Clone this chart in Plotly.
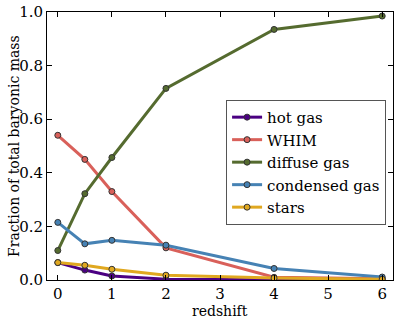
import plotly.graph_objects as go

redshift = [0, 0.5, 1, 2, 4, 6]
hot_gas = [0.065, 0.037, 0.015, 0.003, 0.001, 0.0005]
whim = [0.54, 0.45, 0.33, 0.12, 0.01, 0.005]
diffuse_gas = [0.11, 0.322, 0.457, 0.715, 0.935, 0.985]
condensed_gas = [0.215, 0.135, 0.148, 0.13, 0.043, 0.011]
stars = [0.065, 0.055, 0.04, 0.018, 0.007, 0.003]

series = [
    ('hot gas', hot_gas, '#4b0082'),
    ('WHIM', whim, '#d9605a'),
    ('diffuse gas', diffuse_gas, '#556b2f'),
    ('condensed gas', condensed_gas, '#4682b4'),
    ('stars', stars, '#e0a820'),
]

fig = go.Figure()
for name, vals, col in series:
    fig.add_trace(go.Scatter(
        x=redshift, y=vals, name=name, mode='lines+markers',
        line=dict(color=col, width=3),
        marker=dict(size=6, color=col, line=dict(color='#333333', width=1)),
    ))

axis_common = dict(
    showgrid=False, zeroline=False, showline=True, mirror='allticks',
    linecolor='black', linewidth=1, ticks='inside', ticklen=5,
    tickcolor='black', tickfont=dict(size=15, color='black'),
    automargin=False,
)

fig.update_layout(
    width=399, height=320,
    margin=dict(l=47, r=6, t=12, b=40),
    paper_bgcolor='white', plot_bgcolor='white',
    font=dict(family='DejaVu Serif', color='black'),
    xaxis=dict(range=[-0.2, 6.2], tickvals=[0, 1, 2, 3, 4, 5, 6], **axis_common),
    yaxis=dict(range=[0, 1], tickvals=[0, 0.2, 0.4, 0.6, 0.8, 1.0],
               tickformat='.1f', **axis_common),
    annotations=[
        dict(text='redshift', x=0.5, y=0, xref='paper', yref='paper',
             xanchor='center', yanchor='top', yshift=-21, showarrow=False,
             font=dict(size=14)),
        dict(text='Fraction of total baryonic mass', x=0, y=0.5,
             xref='paper', yref='paper', xanchor='center', yanchor='middle',
             xshift=-33, textangle=-90, showarrow=False, font=dict(size=14)),
    ],
    legend=dict(x=0.98, y=0.672, xanchor='right', yanchor='top',
                bgcolor='white', bordercolor='#555555', borderwidth=1,
                font=dict(size=15), tracegroupgap=0),
    showlegend=True,
)
fig.write_html("out.html", config={'displayModeBar': False},
               post_script="document.body.style.margin='0';")
